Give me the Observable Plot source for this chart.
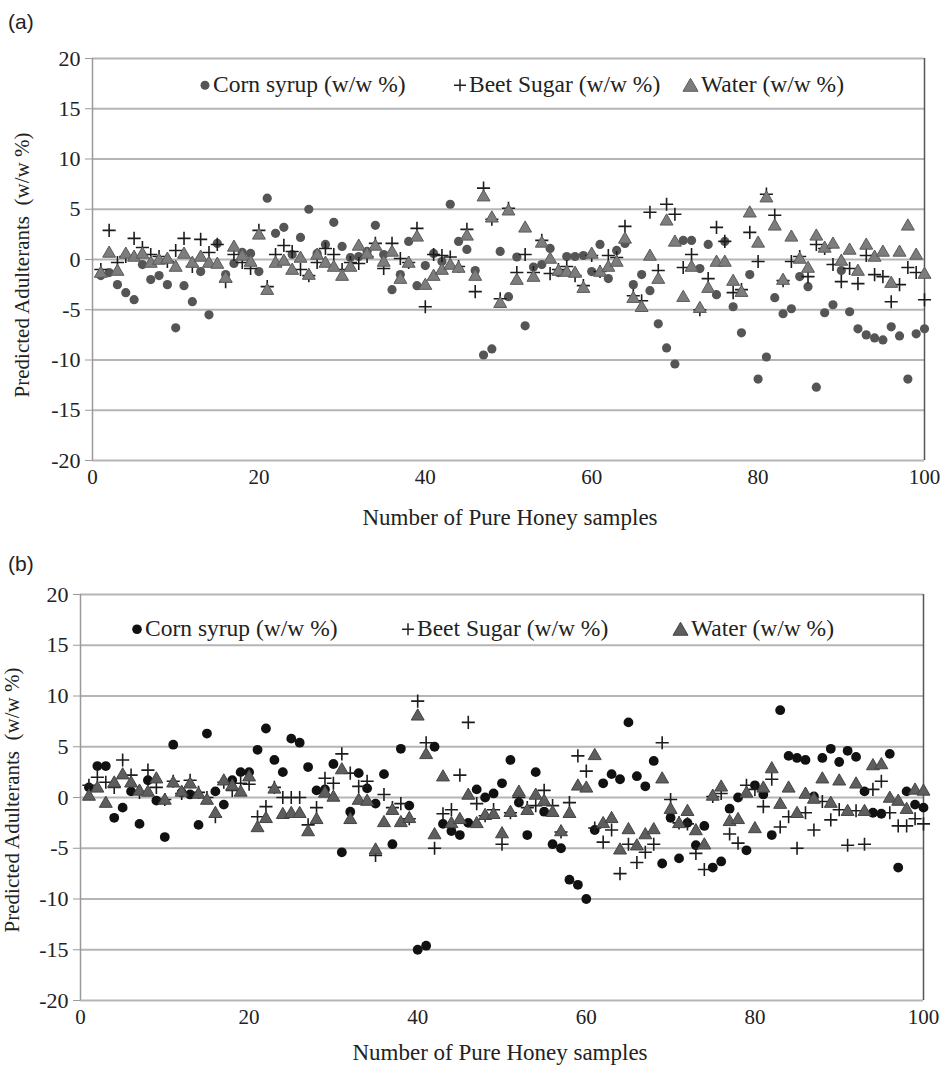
<!DOCTYPE html>
<html><head><meta charset="utf-8">
<script src="https://cdn.jsdelivr.net/npm/d3@7"></script>
<script src="https://cdn.jsdelivr.net/npm/@observablehq/plot@0.6"></script>
<style>
body{margin:0;background:#fff;width:941px;height:1065px;position:relative;overflow:hidden;font-family:"Liberation Serif","Times New Roman",serif;color:#222;}
.panel{position:absolute;left:0;width:941px;}
.tag{position:absolute;font-family:"Liberation Sans",Arial,sans-serif;font-size:21px;color:#222;line-height:1;}
.ylab{position:absolute;font-size:21px;white-space:nowrap;transform:translate(-50%,-50%) rotate(-90deg);line-height:1;}
.xlab{position:absolute;font-size:23px;white-space:nowrap;transform:translate(-50%,-50%);line-height:1;}
.leg{position:absolute;font-size:23.5px;white-space:nowrap;line-height:1;transform:translateY(-50%);display:flex;align-items:center;}
.leg svg{display:block;margin-right:2px;}
</style></head><body>
<div class="tag" style="left:8px;top:11px">(a)</div>
<div class="tag" style="left:8px;top:553px">(b)</div>
<div id="pa" class="panel" style="top:0"></div>
<div id="pb" class="panel" style="top:540px"></div>
<div class="ylab" style="left:22px;top:265px">Predicted Adulterants&nbsp; (w/w %)</div>
<div class="ylab" style="left:12px;top:800px">Predicted Adulterants&nbsp; (w/w %)</div>
<div class="xlab" style="left:510px;top:517px">Number of Pure Honey samples</div>
<div class="xlab" style="left:500px;top:1052px">Number of Pure Honey samples</div>

<div class="leg" style="left:199px;top:85px"><svg width="12" height="12"><circle cx="6" cy="6" r="4.5" fill="#555"/></svg>Corn syrup (w/w %)</div>
<div class="leg" style="left:453px;top:85px"><svg width="14" height="14"><path d="M1,7H13M7,1V13" stroke="#222" stroke-width="1.5"/></svg>Beet Sugar (w/w %)</div>
<div class="leg" style="left:682px;top:85px"><svg width="17" height="15"><path d="M8.5,1L16,14H1Z" fill="#7d7d7d" stroke="#5a5a5a"/></svg>Water (w/w %)</div>

<div class="leg" style="left:131px;top:629px"><svg width="12" height="12"><circle cx="6" cy="6" r="4.8" fill="#111"/></svg>Corn syrup (w/w %)</div>
<div class="leg" style="left:401px;top:629px"><svg width="14" height="14"><path d="M1,7H13M7,1V13" stroke="#222" stroke-width="1.5"/></svg>Beet Sugar (w/w %)</div>
<div class="leg" style="left:672px;top:629px"><svg width="17" height="15"><path d="M8.5,1L16,14H1Z" fill="#5e5e5e" stroke="#444"/></svg>Water (w/w %)</div>

<script>
const samples = Array.from({length: 100}, (_, i) => i + 1);
const xTicks = [0, 20, 40, 60, 80, 100];
const yTicks = [-20, -15, -10, -5, 0, 5, 10, 15, 20];
const xDomain = [0, 100];
const yDomain = [-20, 20];

// Panel (a)
const cornA = [-1.6,-1.3,-2.5,-3.3,-4.0,-0.5,-2.0,-1.6,-2.5,-6.8,
  -2.6,-4.2,-1.2,-5.5,1.6,-1.5,-0.4,0.7,0.6,-1.2,
  6.1,2.6,3.2,0.5,2.2,5.0,0.6,1.5,3.7,1.3,
  0.2,0.3,0.8,3.4,0.5,-3.0,-1.5,1.8,-2.6,-0.6,
  0.6,-0.2,5.5,1.8,1.0,-1.1,-9.5,-8.9,0.8,-3.7,
  0.25,-6.6,-0.75,-0.5,1.1,-1.3,0.3,0.3,0.4,-1.2,
  1.5,-1.9,0.9,1.6,-2.5,-1.5,-3.1,-6.4,-8.8,-10.4,
  1.9,1.9,-0.9,1.5,-3.5,1.8,-4.7,-7.3,-1.5,-11.9,
  -9.7,-3.8,-5.4,-4.9,-1.7,-2.7,-12.7,-5.3,-4.5,-1.1,
  -5.2,-6.9,-7.5,-7.8,-8.0,-6.7,-7.6,-11.9,-7.4,-6.9];
const beetA = [-1.0,2.9,-0.3,0.3,2.1,1.2,0.5,0.3,-0.2,0.9,
  2.1,-0.7,2.0,0.7,1.5,-2.2,0.5,-0.3,-0.9,2.9,
  -2.7,0.5,1.4,0.8,-1.0,-1.6,-0.3,1.1,0.5,-1.0,
  -0.3,-0.4,0.3,1.6,-0.9,1.6,0.1,-0.3,3.1,-4.7,
  0.5,0.4,0.25,-0.7,3.0,-3.2,7.1,4.0,-3.9,5.1,
  -1.3,0.5,-1.3,1.9,-1.4,-1.0,-0.7,-1.6,-2.6,0.4,
  -1.2,0.4,0.2,3.3,-3.6,-4.1,4.7,-1.1,5.5,4.5,
  -0.8,0.5,-5.0,-1.9,3.2,1.8,-3.3,-3.0,2.7,-0.2,
  6.5,4.4,-2.1,-0.2,0.3,-1.7,1.5,1.1,-0.5,-2.2,
  -0.9,-2.4,0.4,-1.5,-1.7,-4.2,-2.5,-0.8,-1.3,-4.0];
const waterA = [-1.4,0.6,-1.2,0.5,0.2,0.5,-0.4,-0.1,0.0,-0.8,
  0.5,-0.4,0.2,-0.4,-0.5,-1.9,1.2,0.3,-0.3,2.4,
  -3.1,-0.4,-0.2,-1.1,0.1,-1.6,0.4,-0.4,-0.8,-1.7,
  -0.8,1.3,0.5,1.3,-0.3,0.7,-2.0,-0.4,2.2,-2.6,
  -1.7,-1.1,-0.6,-0.9,2.3,-1.7,6.2,4.1,-4.4,4.8,
  -2.1,3.1,-1.8,1.6,0.0,-1.2,-1.3,-1.4,-2.9,0.5,
  -1.3,-0.8,-0.3,2.0,-3.9,-4.8,0.3,-2.0,3.8,1.7,
  -3.8,-0.8,-4.9,-2.9,-0.3,-0.3,-2.2,-3.3,4.6,1.6,
  6.1,3.3,-2.1,2.2,0.0,-0.9,2.3,1.1,1.5,-0.2,
  0.9,-1.2,1.4,0.2,0.7,-2.4,0.7,3.3,0.4,-1.5];

// Panel (b)
const cornB = [1.0,3.1,3.1,-2.0,-1.0,0.6,-2.6,1.7,-0.3,-3.9,
  5.2,0.5,0.3,-2.7,6.3,0.6,-0.7,1.7,2.5,2.5,
  4.7,6.8,3.7,2.5,5.8,5.4,3.0,0.7,0.8,3.3,
  -5.4,-1.4,2.4,0.9,-0.6,2.3,-4.6,4.8,-0.8,-15.0,
  -14.6,5.0,-2.6,-3.3,-3.7,-2.5,0.8,0.0,0.4,1.4,
  3.7,-0.5,-3.7,2.5,-1.4,-4.6,-5.0,-8.1,-8.6,-10.0,
  -3.2,1.4,2.3,1.8,7.4,2.1,1.1,3.6,-6.5,-2.0,
  -6.0,-2.5,-4.7,-2.8,-6.9,-6.3,-1.1,0.0,-5.2,1.2,
  0.3,-3.7,8.6,4.1,3.9,3.7,0.1,3.9,4.8,3.5,
  4.6,4.0,0.6,-1.5,-1.6,4.3,-6.9,0.6,-0.7,-1.0];
const beetB = [1.2,2.0,1.5,1.0,3.7,2.2,0.5,2.7,1.0,-0.2,
  1.6,0.4,1.7,0.5,0.0,-1.9,1.5,0.7,1.4,1.3,
  -1.9,-0.9,1.0,0.0,0.0,0.0,-2.7,-1.0,1.9,1.4,
  4.3,2.4,1.1,1.6,-5.7,0.3,-1.0,-0.6,-2.1,9.5,
  5.4,-5.0,-1.6,-1.2,2.2,7.4,-0.6,-1.8,-1.2,-4.6,
  -1.5,0.0,-1.0,-0.8,0.7,-0.8,-3.4,-0.5,4.1,2.6,
  -3.0,-4.4,-3.2,-7.5,-4.6,-6.4,-5.4,-4.6,5.4,-0.2,
  -2.5,-2.6,-5.5,-7.1,0.1,0.4,-3.6,-4.5,1.2,0.8,
  -0.9,1.8,-2.9,-1.9,-5.0,-1.5,-3.2,-0.4,-2.2,-1.2,
  -4.7,-1.3,-4.6,0.8,1.6,-1.5,-2.8,-2.8,-2.1,-2.6];
const waterB = [0.1,0.9,-0.6,1.4,2.2,1.4,0.6,0.5,1.8,-0.3,
  1.4,0.5,1.3,0.3,-0.3,-1.6,1.6,1.1,0.5,2.0,
  -3.0,-2.1,0.8,-1.7,-1.6,-1.6,-3.4,-2.2,0.4,0.0,
  2.7,-2.2,-0.3,-0.4,-5.2,-2.5,-1.3,-2.5,-2.1,8.0,
  4.2,-3.7,2.0,-2.6,-2.2,0.2,-2.6,-1.8,-1.7,-3.6,
  -1.5,0.5,-1.3,0.2,-0.4,-1.5,-3.4,-1.6,1.1,0.9,
  4.1,-2.6,-2.1,-5.2,-3.2,-4.8,-3.7,-3.2,1.8,-1.2,
  -2.6,-1.4,-3.3,-4.7,0.1,1.0,-2.4,-2.2,0.4,-3.1,
  0.9,2.8,-0.7,0.9,-1.6,0.3,-0.2,1.8,-0.6,1.6,
  -1.4,1.3,-1.4,3.1,3.2,-0.1,-0.4,-1.2,0.7,0.6];

function rows(vals) { return samples.map((s, i) => ({s, v: vals[i]})); }

function panel(o) {
  return Plot.plot({
    width: 941, height: o.height,
    marginTop: o.mt, marginBottom: o.mb, marginLeft: o.ml, marginRight: o.mr,
    style: {fontFamily: '"Liberation Serif","Times New Roman",serif', fontSize: "22px", color: "#222", background: "transparent", overflow: "visible"},
    x: {domain: xDomain},
    y: {domain: yDomain},
    marks: [
      Plot.gridY(yTicks, {stroke: "#b5b5b5", strokeWidth: 2, strokeOpacity: 1}),
      Plot.ruleX([xDomain[0]], {stroke: "#9a9a9a", strokeWidth: 1.5}),
      Plot.ruleX([xDomain[1]], {stroke: o.border, strokeWidth: 1.5}),
      Plot.axisY({ticks: yTicks, tickSize: 7, tickPadding: 5, stroke: "#9a9a9a", label: null, tickFormat: d => String(d), fontSize: 22}),
      Plot.axisX({ticks: xTicks, tickSize: 0, tickPadding: 9, label: null, tickFormat: d => String(d), fontSize: 21}),
      Plot.dot(rows(o.corn), {x: "s", y: "v", r: o.cr, fill: o.cornFill, symbol: "circle"}),
      Plot.dot(rows(o.beet), {x: "s", y: "v", r: 4.3, stroke: "#1c1c1c", strokeWidth: 1.6, symbol: "plus"}),
      Plot.dot(rows(o.water), {x: "s", y: "v", r: 4.8, fill: o.waterFill, stroke: o.waterStroke, strokeWidth: 1, symbol: "triangle"})
    ]
  });
}

document.getElementById("pa").append(panel({
  height: 530, mt: 58, mb: 70, ml: 92, mr: 17, border: "#555",
  corn: cornA, beet: beetA, water: waterA,
  cr: 4.6, cornFill: "#555", waterFill: "#7d7d7d", waterStroke: "#5a5a5a"
}));
document.getElementById("pb").append(panel({
  height: 525, mt: 54, mb: 65, ml: 80, mr: 18, border: "#555",
  corn: cornB, beet: beetB, water: waterB,
  cr: 4.9, cornFill: "#111", waterFill: "#5e5e5e", waterStroke: "#444"
}));
</script>
</body></html>
